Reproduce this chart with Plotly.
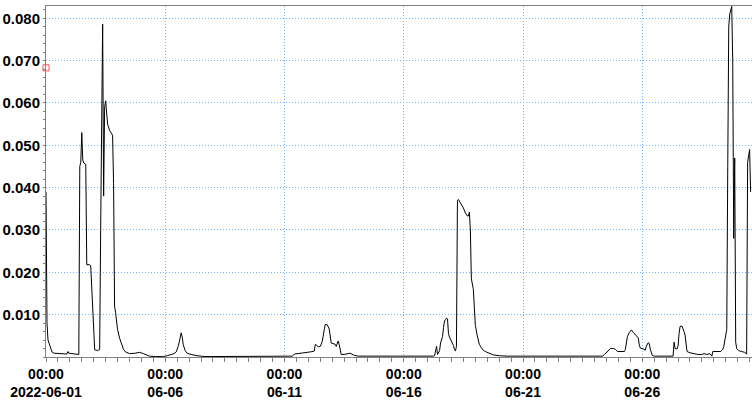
import pandas as pd
import plotly.graph_objects as go

START = "2022-06-01 00:00"

# hours since START and measured values
hours = [0, 1, 2, 4, 6, 8, 12, 18, 21, 22, 23, 26, 30, 33,
         34, 35, 36, 37, 38, 40, 41, 44, 45, 46, 47, 48, 49, 52, 54,
         55, 56, 57, 58, 59, 60, 62, 64, 67, 68, 69, 70, 72, 74, 76, 78, 80,
         84, 90, 94, 98, 100, 104, 110, 118, 122, 126, 129, 131, 133, 135,
         136, 137, 138, 140, 142, 146, 152, 160, 200, 246, 248, 250, 258, 262,
         266, 270, 271, 272, 274, 276, 278, 280, 281, 283, 285, 287, 289, 291,
         292, 294, 295, 297, 300, 303, 306, 310, 314, 350, 386, 388, 390, 391,
         392, 393, 394, 396, 397, 399, 400, 401, 402, 403, 404, 405, 406, 408,
         410, 411, 412, 413, 414, 415, 416, 418, 420, 422, 424, 425, 426, 427,
         428, 430, 431, 432, 434, 436, 438, 440, 442, 446, 450, 456, 464, 520,
         556, 560, 562, 564, 566, 568, 571, 573, 575, 582, 583, 585, 587, 589,
         591, 593, 596, 597, 598, 601, 603, 604, 606, 607, 608, 610, 612, 630,
         631, 632, 633, 635, 636, 637, 638, 640, 641, 642, 643, 644, 645, 648,
         652, 656, 660, 662, 665, 668, 670, 671, 679, 681, 682, 684, 685, 686,
         687, 688, 690, 691, 692, 693, 694, 695, 697, 700, 703, 705, 706, 707,
         708, 709]
values = [0.039, 0.008, 0.004, 0.0025, 0.0012, 0.0009, 0.0008, 0.0008, 0.0007, 0.0013, 0.0009, 0.0008, 0.0007, 0.0006,
          0.045, 0.046, 0.053, 0.0465, 0.0458, 0.0455, 0.0218, 0.0218, 0.0215, 0.016, 0.009, 0.004, 0.0017, 0.0015, 0.0018,
          0.030, 0.055, 0.0786, 0.038, 0.059, 0.0605, 0.055, 0.0535, 0.0524, 0.041, 0.012, 0.0105, 0.0065, 0.0045, 0.003, 0.0018, 0.0012,
          0.0008, 0.0009, 0.0011, 0.0008, 0.0006, 0.0002, 0.0001, 0.0001, 0.0003, 0.0006, 0.0008, 0.0012, 0.0025, 0.0045,
          0.0057, 0.0048, 0.0030, 0.0015, 0.0009, 0.0006, 0.0003, 0.0001, 0.0001, 0.0001, 0.0002, 0.0007, 0.0009, 0.001,
          0.0012, 0.0014, 0.003, 0.0028, 0.0024, 0.0025, 0.0037, 0.0065, 0.0077, 0.0076, 0.0066, 0.0033, 0.0031, 0.003,
          0.0025, 0.0038, 0.003, 0.0006, 0.0006, 0.0007, 0.0009, 0.0004, 0.0002, 0.0002, 0.0001, 0.0001, 0.0002, 0.0003,
          0.0018, 0.0025, 0.0006, 0.0015, 0.0033, 0.0048, 0.0070, 0.0085, 0.0088, 0.0092, 0.009, 0.0055, 0.0047, 0.0038,
          0.0027, 0.0018, 0.0014, 0.0025, 0.037, 0.0372, 0.0368, 0.0360, 0.0352, 0.0340, 0.0333, 0.0333, 0.0342, 0.030,
          0.0185, 0.016, 0.012, 0.0075, 0.005, 0.003, 0.0022, 0.0016, 0.0013, 0.0009, 0.0005, 0.0003, 0.0002, 0.0002,
          0.0001, 0.0002, 0.0006, 0.001, 0.0016, 0.002, 0.0020, 0.0018, 0.0013, 0.0013, 0.0018, 0.0048, 0.0058, 0.0064,
          0.0058, 0.0053, 0.0045, 0.0028, 0.0021, 0.0019, 0.0016, 0.0025, 0.0034, 0.0032, 0.0019, 0.0004, 0.0002, 0.0002,
          0.0002, 0.0035, 0.0020, 0.0019, 0.0026, 0.0055, 0.0072, 0.0073, 0.0068, 0.0060, 0.0052, 0.003, 0.0013, 0.001,
          0.0008, 0.0006, 0.0006, 0.0008, 0.0006, 0.0008, 0.0002, 0.0013, 0.0013, 0.0018, 0.0025, 0.0057, 0.0065, 0.045,
          0.078, 0.081, 0.0828, 0.070, 0.028, 0.047, 0.0035, 0.002, 0.0015, 0.0013, 0.0011, 0.0007, 0.046, 0.0475,
          0.049, 0.039]

marker_hours = [0]
marker_values = [0.0683]

tick_days = ["2022-06-01", "2022-06-06", "2022-06-11", "2022-06-16", "2022-06-21", "2022-06-26"]
tick_text = ["00:00<br>2022-06-01", "00:00<br>06-06", "00:00<br>06-11",
             "00:00<br>06-16", "00:00<br>06-21", "00:00<br>06-26"]
y_ticks = [0.010, 0.020, 0.030, 0.040, 0.050, 0.060, 0.070, 0.080]
y_text = ["0.010", "0.020", "0.030", "0.040", "0.050", "0.060", "0.070", "0.080"]

t0 = pd.Timestamp(START)
times = [t0 + pd.Timedelta(hours=h) for h in hours]
mtimes = [t0 + pd.Timedelta(hours=h) for h in marker_hours]

FONT = "Liberation Sans, Arial, sans-serif"
GRID = "#6fb5ff"

fig = go.Figure()
fig.add_trace(go.Scatter(x=times, y=values, mode="lines",
                         line=dict(color="#000000", width=1), showlegend=False))
fig.add_trace(go.Scatter(x=mtimes, y=marker_values, mode="markers",
                         marker=dict(symbol="square-open", color="#ff5050", size=6,
                                     line=dict(width=1)),
                         showlegend=False, cliponaxis=False))

fig.update_layout(
    width=752, height=400,
    margin=dict(l=46, r=0, t=6, b=43),
    paper_bgcolor="white", plot_bgcolor="white",
    showlegend=False,
)
fig.update_xaxes(
    range=[t0, t0 + pd.Timedelta(hours=710.4)],
    tickvals=tick_days, ticktext=tick_text,
    tickfont=dict(family=FONT, size=14, color="black", weight="bold"),
    ticks="outside", ticklen=4, tickcolor="#808080",
    showline=True, linecolor="#808080", linewidth=1, mirror=True,
    showgrid=True, gridcolor=GRID, griddash="1px,2px", gridwidth=1,
    zeroline=False, automargin=False,
    minor=dict(dtick=12 * 3600 * 1000, tick0=START, ticks="outside", ticklen=4,
               tickcolor="#808080", showgrid=False),
)
fig.update_yaxes(
    range=[0, 0.0829],
    tickvals=y_ticks, ticktext=y_text,
    tickfont=dict(family=FONT, size=15, color="black", weight="bold"),
    ticks="outside", ticklen=2, tickcolor="#808080",
    showline=True, linecolor="#808080", linewidth=1,
    showgrid=True, gridcolor=GRID, griddash="1px,2px", gridwidth=1,
    zeroline=False, automargin=False,
    minor=dict(dtick=0.002, ticks="outside", ticklen=2, tickcolor="#808080", showgrid=False),
)

fig.write_html("out.html")
